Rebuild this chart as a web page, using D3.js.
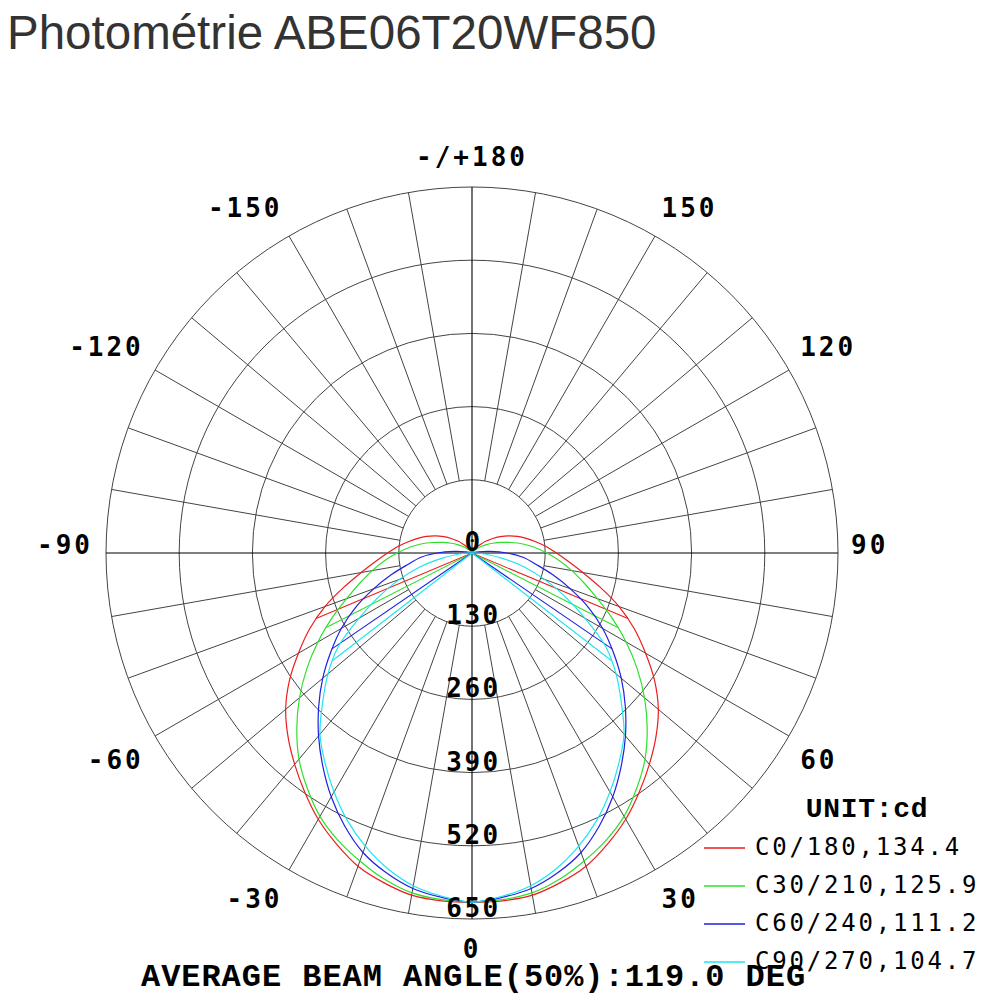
<!DOCTYPE html>
<html><head><meta charset="utf-8">
<script src="https://cdn.jsdelivr.net/npm/d3@7"></script>
<style>body{margin:0;background:#fff}</style>
</head><body>
<svg id="chart" width="1000" height="1000"></svg>
<script>
// ---------------- data ----------------
const titleText = "Photométrie ABE06T20WF850";
const gammaAngles = d3.range(0, 181, 5); // 0..180 step 5 (vertical angle, degrees)
const c0Values  = [620,620,617,606,592,570,546,518,490,462,432,396,356,318,278,236,200,172,150,132,115,100,86,72,58,45,33,22,14,8,4,2,0,0,0,0,0];
const c30Values = [620,618,613,600,582,563,540,510,478,440,400,358,316,275,237,206,180,156,133,112,92,72,55,41,30,21,14,9,6,3,1,0,0,0,0,0,0];
const c60Values = [620,614,605,588,566,535,500,462,424,385,346,306,268,228,186,148,115,92,62,32,12,4,0,0,0,0,0,0,0,0,0,0,0,0,0,0,0];
const c90Values = [620,612,600,580,554,524,490,455,420,375,334,290,232,182,137,96,55,25,8,2,0,0,0,0,0,0,0,0,0,0,0,0,0,0,0,0,0];
const seriesLabels = ["C0/180,134.4","C30/210,125.9","C60/240,111.2","C90/270,104.7"];
const beamAngles = [134.4,125.9,111.2,104.7];
const seriesColors = ["#ee1c1c","#2ee02e","#2020e0","#1ee6ee"];
const ringTicks = [0,130,260,390,520,650];
const angleTicks = [-150,-120,-90,-60,-30,0,30,60,90,120,150,180];
const angleTickLabels = ["-150","-120","-90","-60","-30","0","30","60","90","120","150","-/+180"];
const unitLabel = "UNIT:cd";
const beamLabel = "AVERAGE BEAM ANGLE(50%):119.0 DEG";

// ---------------- layout ----------------
const svg = d3.select("#chart");
const cx = 472, cy = 553, R = 366;
const rScale = d3.scaleLinear().domain([0, 650]).range([0, R]);
const toRad = d => d * Math.PI / 180;
// signed angle (negative = left side) -> radial-line angle (0 = up, clockwise)
const aOf = s => Math.PI - toRad(s);

svg.append("text")
  .attr("x", 7).attr("y", 49)
  .attr("font-family", "'Liberation Sans', Arial, sans-serif")
  .attr("font-size", 47.5).attr("fill", "#333")
  .text(titleText);

const g = svg.append("g").attr("transform", `translate(${cx},${cy})`);

// rings
g.selectAll("circle.ring").data(ringTicks.filter(d => d > 0)).join("circle")
  .attr("class", "ring").attr("r", d => rScale(d))
  .attr("fill", "none").attr("stroke", "#444").attr("stroke-width", 1);

// spokes every 10 deg
const spokeLine = d3.lineRadial().angle(d => d.a).radius(d => d.r);
const spokes = d3.range(0, 360, 10).filter(d => d % 90 !== 0);
g.selectAll("path.spoke").data(spokes).join("path")
  .attr("class", "spoke")
  .attr("d", d => spokeLine([{a: toRad(d), r: rScale(130)}, {a: toRad(d), r: rScale(650)}]))
  .attr("stroke", "#444").attr("stroke-width", 1).attr("fill", "none");
// main axes (full diameters)
[0, 90].forEach(d => {
  g.append("path")
    .attr("d", `M${R*Math.sin(toRad(d))},${-R*Math.cos(toRad(d))}L${-R*Math.sin(toRad(d))},${R*Math.cos(toRad(d))}`)
    .attr("stroke", "#000").attr("stroke-width", 1.1);
});

// curves
const allSeries = [c0Values, c30Values, c60Values, c90Values];
const curveLine = d3.lineRadial().angle(d => d.a).radius(d => rScale(d.v))
  .curve(d3.curveCatmullRom.alpha(0.5));
function sidePoints(values) {
  const pts = [];
  for (let i = 0; i < values.length; i++) {
    pts.push({g: gammaAngles[i], v: values[i]});
    if (values[i] === 0) break;
  }
  return pts;
}
function interp(values, ang) {
  const i = Math.floor(ang / 5), t = (ang - gammaAngles[i]) / 5;
  return values[i] * (1 - t) + values[i + 1] * t;
}
allSeries.forEach((vals, k) => {
  const side = sidePoints(vals);
  const left = side.slice().reverse().map(p => ({a: aOf(-p.g), v: p.v}));
  const right = side.slice(1).map(p => ({a: aOf(p.g), v: p.v}));
  g.append("path").attr("d", curveLine(left.concat(right)))
    .attr("fill", "none").attr("stroke", seriesColors[k]).attr("stroke-width", 1.2);
  const h = beamAngles[k] / 2, hv = interp(vals, h);
  const beamPts = [{a: aOf(-h), v: hv}, {a: 0, v: 0}, {a: aOf(h), v: hv}];
  g.append("path")
    .attr("d", d3.lineRadial().angle(d => d.a).radius(d => rScale(d.v))(beamPts))
    .attr("fill", "none").attr("stroke", seriesColors[k]).attr("stroke-width", 1.1);
});

// ring labels
const numFont = "'DejaVu Sans Mono', monospace";
g.selectAll("text.rl").data(ringTicks).join("text")
  .attr("class", "rl")
  .attr("x", 1.5).attr("y", d => rScale(d) - 2)
  .attr("text-anchor", "middle")
  .attr("font-family", numFont).attr("font-weight", "bold")
  .attr("font-size", 26).attr("letter-spacing", 2.5)
  .attr("fill", "#000")
  .text(d => d);

// angle labels: anchored at inner edge on a circle, shifted outward vertically
const labelR = 379;
g.selectAll("text.al").data(angleTicks).join("text")
  .attr("class", "al")
  .attr("x", d => labelR * Math.sin(toRad(d)))
  .attr("y", d => {
    const c = Math.cos(toRad(d));
    const off = Math.abs(c) < 0.01 ? -8 : 17 * Math.sign(c);
    return labelR * c + off;
  })
  .attr("dy", "0.36em")
  .attr("text-anchor", d => (d === 0 || d === 180) ? "middle" : (d > 0 ? "start" : "end"))
  .attr("font-family", numFont).attr("font-weight", "bold")
  .attr("font-size", 26).attr("letter-spacing", 3)
  .attr("fill", "#000")
  .text((d, i) => angleTickLabels[i]);

// legend
const boldFont = "'Liberation Mono', 'Courier New', monospace";
svg.append("text")
  .attr("x", 867).attr("y", 817).attr("text-anchor", "middle")
  .attr("font-family", boldFont).attr("font-weight", "bold")
  .attr("font-size", 28).attr("letter-spacing", 0.7).attr("fill", "#000")
  .text(unitLabel);
const leg = svg.selectAll("g.leg").data(seriesLabels).join("g")
  .attr("class", "leg")
  .attr("transform", (d, i) => `translate(0,${i * 38})`);
leg.append("line").attr("x1", 704).attr("x2", 745).attr("y1", 848).attr("y2", 848)
  .attr("stroke", (d, i) => seriesColors[i]).attr("stroke-width", 1.3);
leg.append("text").attr("x", 755).attr("y", 855)
  .attr("font-family", numFont).attr("font-size", 24).attr("letter-spacing", 2.8)
  .attr("fill", "#000").text(d => d);

svg.append("text")
  .attr("x", 141).attr("y", 986)
  .attr("font-family", boldFont).attr("font-weight", "bold")
  .attr("font-size", 32).attr("letter-spacing", 0.95).attr("fill", "#000")
  .text(beamLabel);
</script>
</body></html>
